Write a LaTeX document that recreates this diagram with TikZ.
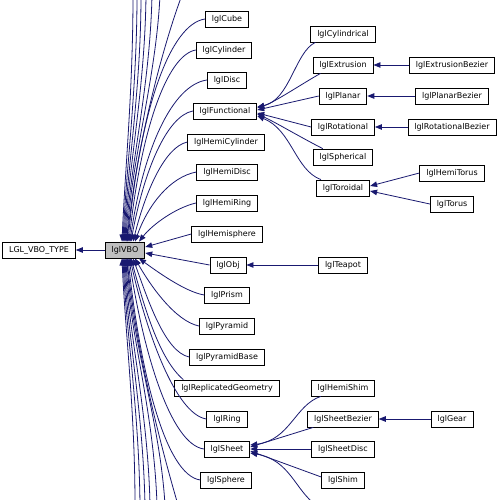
\documentclass[tikz,border=0pt]{standalone}
\usepackage{fontspec}
\setmainfont{DejaVu Sans}
\usetikzlibrary{arrows.meta,calc}
\definecolor{edgeblue}{HTML}{191970}
\definecolor{vbogray}{HTML}{BFBFBF}
\begin{document}
\begin{tikzpicture}[x=1pt,y=-1pt,
  box/.style={draw=black,line width=0.8pt,fill=white,font=\fontsize{8}{9}\selectfont,
    minimum height=16pt,inner ysep=0pt,inner xsep=6.5pt},
  edge/.style={draw=edgeblue,line width=0.8pt,-{Triangle[length=7pt,width=5.5pt]}}]
\useasboundingbox[fill=white] (0,0) rectangle (500,500);
% nodes
\node[box] (type) at (39,250) {LGL\_VBO\_TYPE};
\node[box,fill=vbogray] (vbo) at (125,250) {lglVBO};
\node[box] (cube) at (227,19) {lglCube};
\node[box] (cylinder) at (224,50) {lglCylinder};
\node[box] (disc) at (227,80) {lglDisc};
\node[box] (func) at (225,111) {lglFunctional};
\node[box] (hemicyl) at (226,142) {lglHemiCylinder};
\node[box] (hemidisc) at (227,172) {lglHemiDisc};
\node[box] (hemiring) at (227,203) {lglHemiRing};
\node[box] (hemisph) at (227,234) {lglHemisphere};
\node[box] (obj) at (228,265) {lglObj};
\node[box] (prism) at (227,295) {lglPrism};
\node[box] (pyr) at (227,326) {lglPyramid};
\node[box] (pyrbase) at (227,357) {lglPyramidBase};
\node[box] (repl) at (227,388) {lglReplicatedGeometry};
\node[box] (ring) at (227,419) {lglRing};
\node[box] (sheet) at (227,449) {lglSheet};
\node[box] (sphere) at (226,480) {lglSphere};
\node[box] (cyl) at (343,34) {lglCylindrical};
\node[box] (ext) at (343,65) {lglExtrusion};
\node[box] (planar) at (343,96) {lglPlanar};
\node[box] (rot) at (343,127) {lglRotational};
\node[box] (sph) at (343,157) {lglSpherical};
\node[box] (tor) at (343,188) {lglToroidal};
\node[box] (extb) at (452,65) {lglExtrusionBezier};
\node[box] (planb) at (452,96) {lglPlanarBezier};
\node[box] (rotb) at (452,127) {lglRotationalBezier};
\node[box] (htorus) at (452,173) {lglHemiTorus};
\node[box] (torus) at (452,204) {lglTorus};
\node[box] (teapot) at (343,265) {lglTeapot};
\node[box] (hshim) at (343,388) {lglHemiShim};
\node[box] (sbez) at (343,419) {lglSheetBezier};
\node[box] (gear) at (452,419) {lglGear};
\node[box] (sdisc) at (343,449) {lglSheetDisc};
\node[box] (shim) at (343,480) {lglShim};
% free ends outside the picture
\coordinate (t1) at (133,-5);
\coordinate (t2) at (137,-5);
\coordinate (t3) at (141,-5);
\coordinate (t4) at (146,-5);
\coordinate (t5) at (152,-5);
\coordinate (t6) at (160,-5);
\coordinate (t7) at (182,-5);
\coordinate (b1) at (135,505);
\coordinate (b2) at (140,505);
\coordinate (b3) at (145,505);
\coordinate (b4) at (150,505);
\coordinate (b5) at (157,505);
\coordinate (b6) at (165,505);
\coordinate (b7) at (178,505);
\coordinate (s5) at (316,505);
% edges
\draw[edge] (vbo.west) -- (type.east);
\draw[edge] (t1) .. controls (133,90) and (125,170) .. ($(vbo.north)+(-3,0)$);
\draw[edge] (t2) .. controls (137,90) and (126,170) .. ($(vbo.north)+(-2,0)$);
\draw[edge] (t3) .. controls (141,90) and (127,170) .. ($(vbo.north)+(-1,0)$);
\draw[edge] (t4) .. controls (145,90) and (128,170) .. ($(vbo.north)+(0,0)$);
\draw[edge] (t5) .. controls (150,90) and (129,170) .. ($(vbo.north)+(1,0)$);
\draw[edge] (t6) .. controls (156,80) and (131,160) .. ($(vbo.north)+(2,0)$);
\draw[edge] (t7) .. controls (165,40) and (137,140) .. ($(vbo.north)+(2,0)$);
\draw[edge] (cube.west) .. controls (170,24) and (140,110) .. ($(vbo.north)+(3,0)$);
\draw[edge] (cylinder.west) .. controls (167,55) and (141,130) .. ($(vbo.north)+(4,0)$);
\draw[edge] (disc.west) .. controls (172,85) and (143,150) .. ($(vbo.north)+(5,0)$);
\draw[edge] (func.west) .. controls (167,116) and (144,170) .. ($(vbo.north)+(6,0)$);
\draw[edge] (hemicyl.west) .. controls (165,147) and (146,190) .. ($(vbo.north)+(8,0)$);
\draw[edge] (hemidisc.west) .. controls (170,177) and (148,205) .. ($(vbo.north)+(10,0)$);
\draw[edge] (hemiring.west) .. controls (175,208) and (152,225) .. ($(vbo.north)+(14,0)$);
\draw[edge] (hemisph.west) -- ($(vbo.east)+(0,-3)$);
\draw[edge] (obj.west) -- ($(vbo.east)+(0,3)$);
\draw[edge] (prism.west) .. controls (185,292) and (155,270) .. ($(vbo.south)+(14,0)$);
\draw[edge] (pyr.west) .. controls (175,321) and (150,285) .. ($(vbo.south)+(10,0)$);
\draw[edge] (pyrbase.west) .. controls (165,352) and (148,300) .. ($(vbo.south)+(8,0)$);
\draw[edge] ($(repl.north west)+(9,0)$) .. controls (160,360) and (145,310) .. ($(vbo.south)+(6,0)$);
\draw[edge] (ring.west) .. controls (175,414) and (146,330) .. ($(vbo.south)+(5,0)$);
\draw[edge] (sheet.west) .. controls (170,444) and (143,350) .. ($(vbo.south)+(4,0)$);
\draw[edge] (sphere.west) .. controls (165,475) and (140,370) .. ($(vbo.south)+(3,0)$);
\draw[edge] (b1) .. controls (135,410) and (125,330) .. ($(vbo.south)+(-3,0)$);
\draw[edge] (b2) .. controls (139,410) and (126,330) .. ($(vbo.south)+(-2,0)$);
\draw[edge] (b3) .. controls (143,410) and (127,330) .. ($(vbo.south)+(-1,0)$);
\draw[edge] (b4) .. controls (148,410) and (128,330) .. ($(vbo.south)+(0,0)$);
\draw[edge] (b5) .. controls (154,410) and (129,330) .. ($(vbo.south)+(1,0)$);
\draw[edge] (b6) .. controls (160,420) and (131,340) .. ($(vbo.south)+(2,0)$);
\draw[edge] (b7) .. controls (165,460) and (137,360) .. ($(vbo.south)+(2,0)$);
% functional children
\draw[edge] ($(cyl.south west)+(5,0)$) .. controls (295,52) and (290,100) .. ($(func.east)+(0,-4)$);
\draw[edge] ($(ext.south west)+(8,0)$) .. controls (300,85) and (275,102) .. ($(func.east)+(0,-3)$);
\draw[edge] (planar.west) -- ($(func.east)+(0,-1)$);
\draw[edge] (rot.west) -- ($(func.east)+(0,2)$);
\draw[edge] ($(sph.north west)+(10,0)$) .. controls (300,137) and (275,122) .. ($(func.east)+(0,3)$);
\draw[edge] ($(tor.north west)+(5,0)$) .. controls (295,170) and (292,130) .. ($(func.east)+(0,5)$);
\draw[edge] (extb.west) -- (ext.east);
\draw[edge] (planb.west) -- (planar.east);
\draw[edge] (rotb.west) -- (rot.east);
\draw[edge] (htorus.west) -- ($(tor.east)+(0,-2)$);
\draw[edge] (torus.west) -- ($(tor.east)+(0,3)$);
\draw[edge] (teapot.west) -- (obj.east);
% sheet children
\draw[edge] ($(hshim.south west)+(10,0)$) .. controls (295,405) and (290,440) .. ($(sheet.east)+(0,-4)$);
\draw[edge] ($(sbez.south west)+(6,0)$) -- ($(sheet.east)+(0,-2)$);
\draw[edge] (sdisc.west) -- (sheet.east);
\draw[edge] ($(shim.west)+(0,-3)$) -- ($(sheet.east)+(0,2)$);
\draw[edge] (s5) .. controls (295,490) and (290,460) .. ($(sheet.east)+(0,4)$);
\draw[edge] (gear.west) -- (sbez.east);
\end{tikzpicture}
\end{document}
